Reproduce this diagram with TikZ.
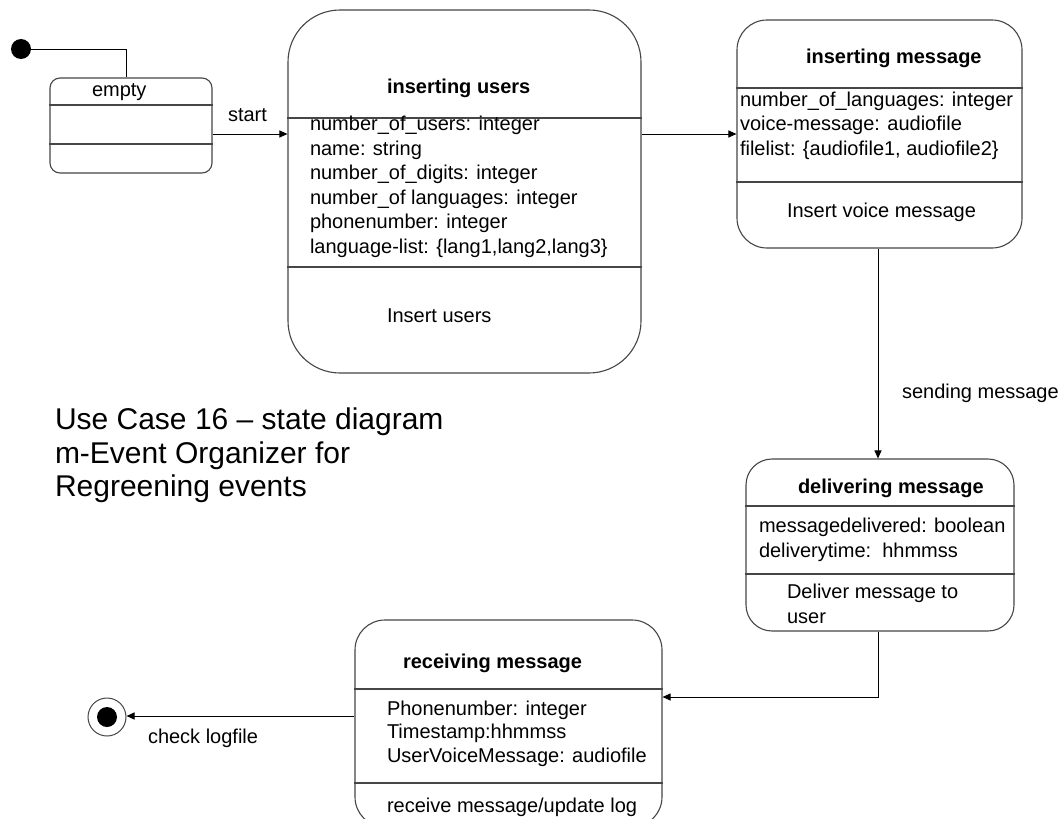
\documentclass[tikz,border=0pt]{standalone}
\usepackage{fontspec}
\setmainfont{Liberation Sans}
\usetikzlibrary{arrows.meta,calc}
\definecolor{boxgray}{RGB}{70,70,70}
\newcommand\txtsize{\fontsize{20}{24}\selectfont}
\newcommand\titlesize{\fontsize{30}{34}\selectfont}
\tikzset{
  statebox/.style={draw=boxgray, line width=1.1pt, fill=white, rectangle, inner sep=0pt},
  divider/.style={draw=boxgray, line width=1.1pt},
  txt/.style={font=\txtsize, anchor=base west, inner sep=0pt, outer sep=0pt},
  btxt/.style={font=\txtsize\bfseries, anchor=base west, inner sep=0pt, outer sep=0pt},
  ttl/.style={font=\titlesize, anchor=base west, inner sep=0pt, outer sep=0pt},
  arr/.style={-{Triangle[length=8pt,width=7pt]}, line width=1pt, draw=black},
  conn/.style={line width=1pt, draw=black}
}
\begin{document}
\begin{tikzpicture}[x=1pt,y=-1pt]
\clip (0,0) rectangle (1060,819);
\fill[white] (0,0) rectangle (1060,819);

% initial state
\node[circle, fill=black, minimum size=20pt, inner sep=0pt] (init) at (21,49) {};

% empty
\node[statebox, minimum width=162pt, minimum height=95pt, rounded corners=10pt] (empty) at (131,125.5) {};
\draw[divider] (empty.west |- 0,105) -- (empty.east |- 0,105);
\draw[divider] (empty.west |- 0,144) -- (empty.east |- 0,144);
\node[txt] (emptyT) at (92,96) {empty};

% inserting users
\node[statebox, minimum width=353pt, minimum height=363pt, rounded corners=52pt] (iu) at (464.5,191.5) {};
\draw[divider] (iu.west |- 0,118) -- (iu.east |- 0,118);
\draw[divider] (iu.west |- 0,267) -- (iu.east |- 0,267);
\node[btxt] (iuT) at (387,93) {inserting users};
\node[txt] (iu1) at (310,130) {number\_of\_users: integer};
\node[txt] (iu2) at (310,155) {name: string};
\node[txt] (iu3) at (310,179) {number\_of\_digits: integer};
\node[txt] (iu4) at (310,204) {number\_of languages: integer};
\node[txt] (iu5) at (310,228) {phonenumber: integer};
\node[txt] (iu6) at (310,253) {language-list: \{lang1,lang2,lang3\}};
\node[txt] (iuA) at (387,322) {Insert users};

% inserting message
\node[statebox, minimum width=285pt, minimum height=228pt, rounded corners=30pt] (im) at (879.5,134) {};
\draw[divider] (im.west |- 0,88) -- (im.east |- 0,88);
\draw[divider] (im.west |- 0,182) -- (im.east |- 0,182);
\node[btxt] (imT) at (806,63) {inserting message};
\node[txt] (im1) at (740,106) {number\_of\_languages: integer};
\node[txt] (im2) at (740,130) {voice-message: audiofile};
\node[txt] (im3) at (740,155) {filelist: \{audiofile1, audiofile2\}};
\node[txt] (imA) at (787,217) {Insert voice message};

% delivering message
\node[statebox, minimum width=268pt, minimum height=172pt, rounded corners=26pt] (dm) at (880,545) {};
\draw[divider] (dm.west |- 0,506) -- (dm.east |- 0,506);
\draw[divider] (dm.west |- 0,574) -- (dm.east |- 0,574);
\node[btxt] (dmT) at (798,493) {delivering message};
\node[txt] (dm1) at (759,532) {messagedelivered: boolean};
\node[txt] (dm2) at (759,557) {deliverytime:\ \ hhmmss};
\node[txt] (dmA) at (787,598) {Deliver message to};
\node[txt] (dmB) at (787,623) {user};

% receiving message
\node[statebox, minimum width=307pt, minimum height=207pt, rounded corners=30pt] (rm) at (508.5,723.5) {};
\draw[divider] (rm.west |- 0,689) -- (rm.east |- 0,689);
\draw[divider] (rm.west |- 0,783) -- (rm.east |- 0,783);
\node[btxt] (rmT) at (403,668) {receiving message};
\node[txt] (rm1) at (387,715) {Phonenumber: integer};
\node[txt] (rm2) at (387,738) {Timestamp:hhmmss};
\node[txt] (rm3) at (387,762) {UserVoiceMessage: audiofile};
\node[txt] (rmA) at (387,812) {receive message/update log};

% final state
\node[circle, draw=boxgray, line width=1pt, fill=white, minimum size=38pt, inner sep=0pt] (final) at (107,717) {};
\node[circle, fill=black, minimum size=20pt, inner sep=0pt] (finalin) at (final.center) {};

% title
\node[ttl] (t1) at (55,429) {Use Case 16 – state diagram};
\node[ttl] (t2) at (55,463) {m-Event Organizer for};
\node[ttl] (t3) at (55,496) {Regreening events};

% connectors
\draw[conn] (init.center) -| (empty.north -| 126,0);
\draw[arr] (empty.east |- 0,134) -- (iu.west |- 0,134);
\node[txt] (startL) at (228,121) {start};
\draw[arr] (iu.east |- 0,134) -- (im.west |- 0,134);
\draw[arr] (im.south -| 878,0) -- (dm.north -| 878,0);
\node[txt] (sendL) at (902,398) {sending message};
\draw[arr] (dm.south -| 878,0) |- (rm.east |- 0,697);
\draw[arr] (rm.west |- 0,716) -- (final.east |- 0,716);
\node[txt] (checkL) at (148,743) {check logfile};
\end{tikzpicture}
\end{document}
